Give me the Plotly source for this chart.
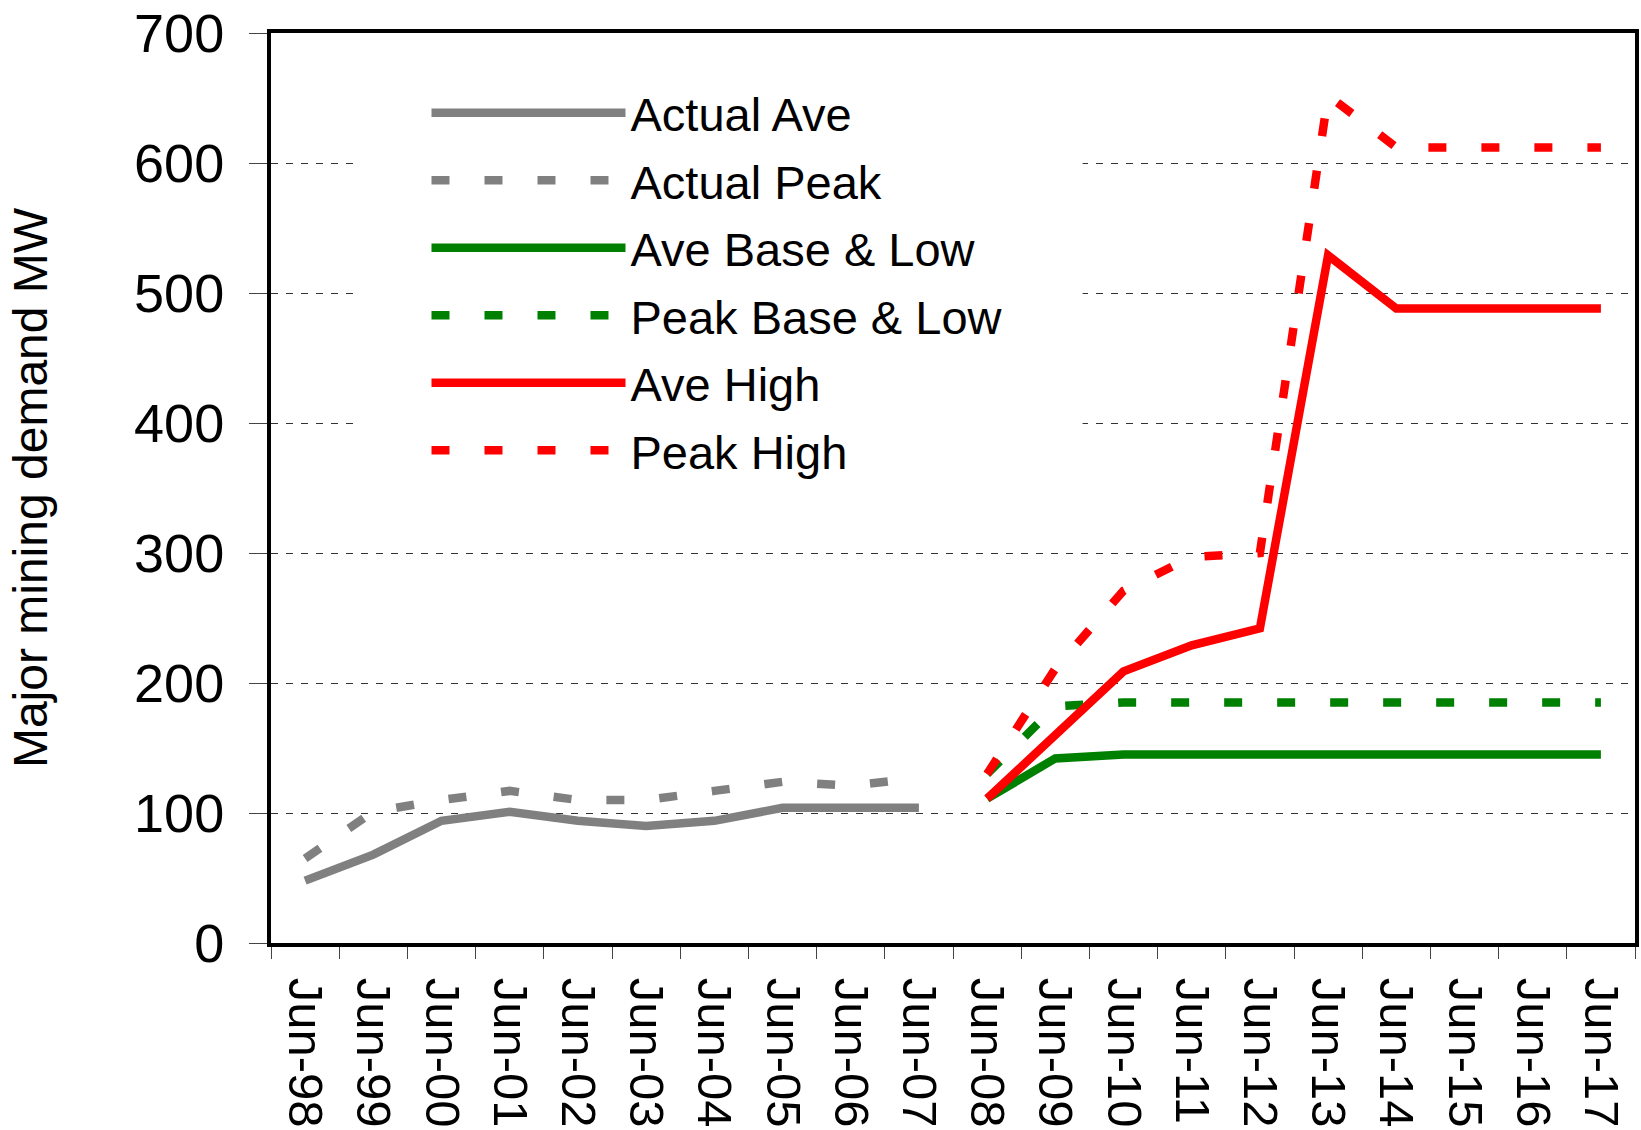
import plotly.graph_objects as go

# Financial years (June) on the category axis
years = ["Jun-98", "Jun-99", "Jun-00", "Jun-01", "Jun-02", "Jun-03", "Jun-04",
         "Jun-05", "Jun-06", "Jun-07", "Jun-08", "Jun-09", "Jun-10", "Jun-11",
         "Jun-12", "Jun-13", "Jun-14", "Jun-15", "Jun-16", "Jun-17"]
actual_years = years[:10]
forecast_years = years[10:]

# Historical demand (MW)
actual_ave = [48, 68, 94, 101, 94, 90, 94, 104, 104, 104]
actual_peak = [65, 101, 110, 117, 110, 110, 117, 124, 121, 127]

# Forecast demand (MW)
ave_base_low = [111, 142, 145, 145, 145, 145, 145, 145, 145, 145]
peak_base_low = [130, 182, 185, 185, 185, 185, 185, 185, 185, 185]
ave_high = [111, 161, 209, 229, 242, 529, 488, 488, 488, 488]
peak_high = [130, 211, 271, 297, 300, 652, 612, 612, 612, 612]

y_ticks = [0, 100, 200, 300, 400, 500, 600, 700]

FONT = "Liberation Sans, Arial, sans-serif"
GREY, GREEN, RED = "#808080", "#008000", "#FF0000"
LW = 8.5
DASH = "18px,35px"

fig = go.Figure()
series = [
    ("Actual Ave", actual_years, actual_ave, GREY, "solid"),
    ("Actual Peak", actual_years, actual_peak, GREY, DASH),
    ("Ave Base & Low", forecast_years, ave_base_low, GREEN, "solid"),
    ("Peak Base & Low", forecast_years, peak_base_low, GREEN, DASH),
    ("Ave High", forecast_years, ave_high, RED, "solid"),
    ("Peak High", forecast_years, peak_high, RED, DASH),
]
for name, xs, ys, color, dash in series:
    fig.add_trace(go.Scatter(
        x=xs, y=ys, name=name, legendgroup=name, mode="lines",
        line=dict(color=color, width=LW, dash=dash),
    ))

# White panel behind the legend that hides the gridlines there
fig.add_shape(type="rect", xref="paper", yref="paper",
              x0=0.0621, x1=0.595, y0=0.499, y1=0.97,
              fillcolor="white", line=dict(width=0), layer="above")

fig.update_layout(
    width=1641, height=1130,
    margin=dict(l=271, r=2, t=33, b=185),
    paper_bgcolor="white", plot_bgcolor="white",
    font=dict(family=FONT, color="black"),
    showlegend=True,
    legend=dict(
        x=0.114, y=0.953, xanchor="left", yanchor="top",
        bgcolor="rgba(0,0,0,0)", borderwidth=0,
        font=dict(family=FONT, size=47, color="black"),
        itemwidth=194, tracegroupgap=3.4,
    ),
    xaxis=dict(
        type="category", categoryorder="array", categoryarray=years,
        range=[-0.5, 19.5], tickson="boundaries",
        ticks="outside", ticklen=12, tickwidth=1, tickcolor="#444",
        tickangle=90, tickfont=dict(family=FONT, size=49, color="black"),
        ticklabelstandoff=21,
        showline=True, linecolor="black", linewidth=4, mirror=True,
        showgrid=False, zeroline=False,
    ),
    yaxis=dict(
        range=[0, 700], tickvals=y_ticks,
        ticks="outside", ticklen=18, tickwidth=1, tickcolor="#444",
        tickfont=dict(family=FONT, size=54, color="black"),
        ticklabelstandoff=14,
        showline=True, linecolor="black", linewidth=4, mirror=True,
        showgrid=True, gridcolor="#333", gridwidth=1, griddash="7px,8px",
        zeroline=False,
        title=dict(text="Major mining demand MW",
                   font=dict(family=FONT, size=48, color="black"),
                   standoff=72),
    ),
)

fig.write_html("out.html")
